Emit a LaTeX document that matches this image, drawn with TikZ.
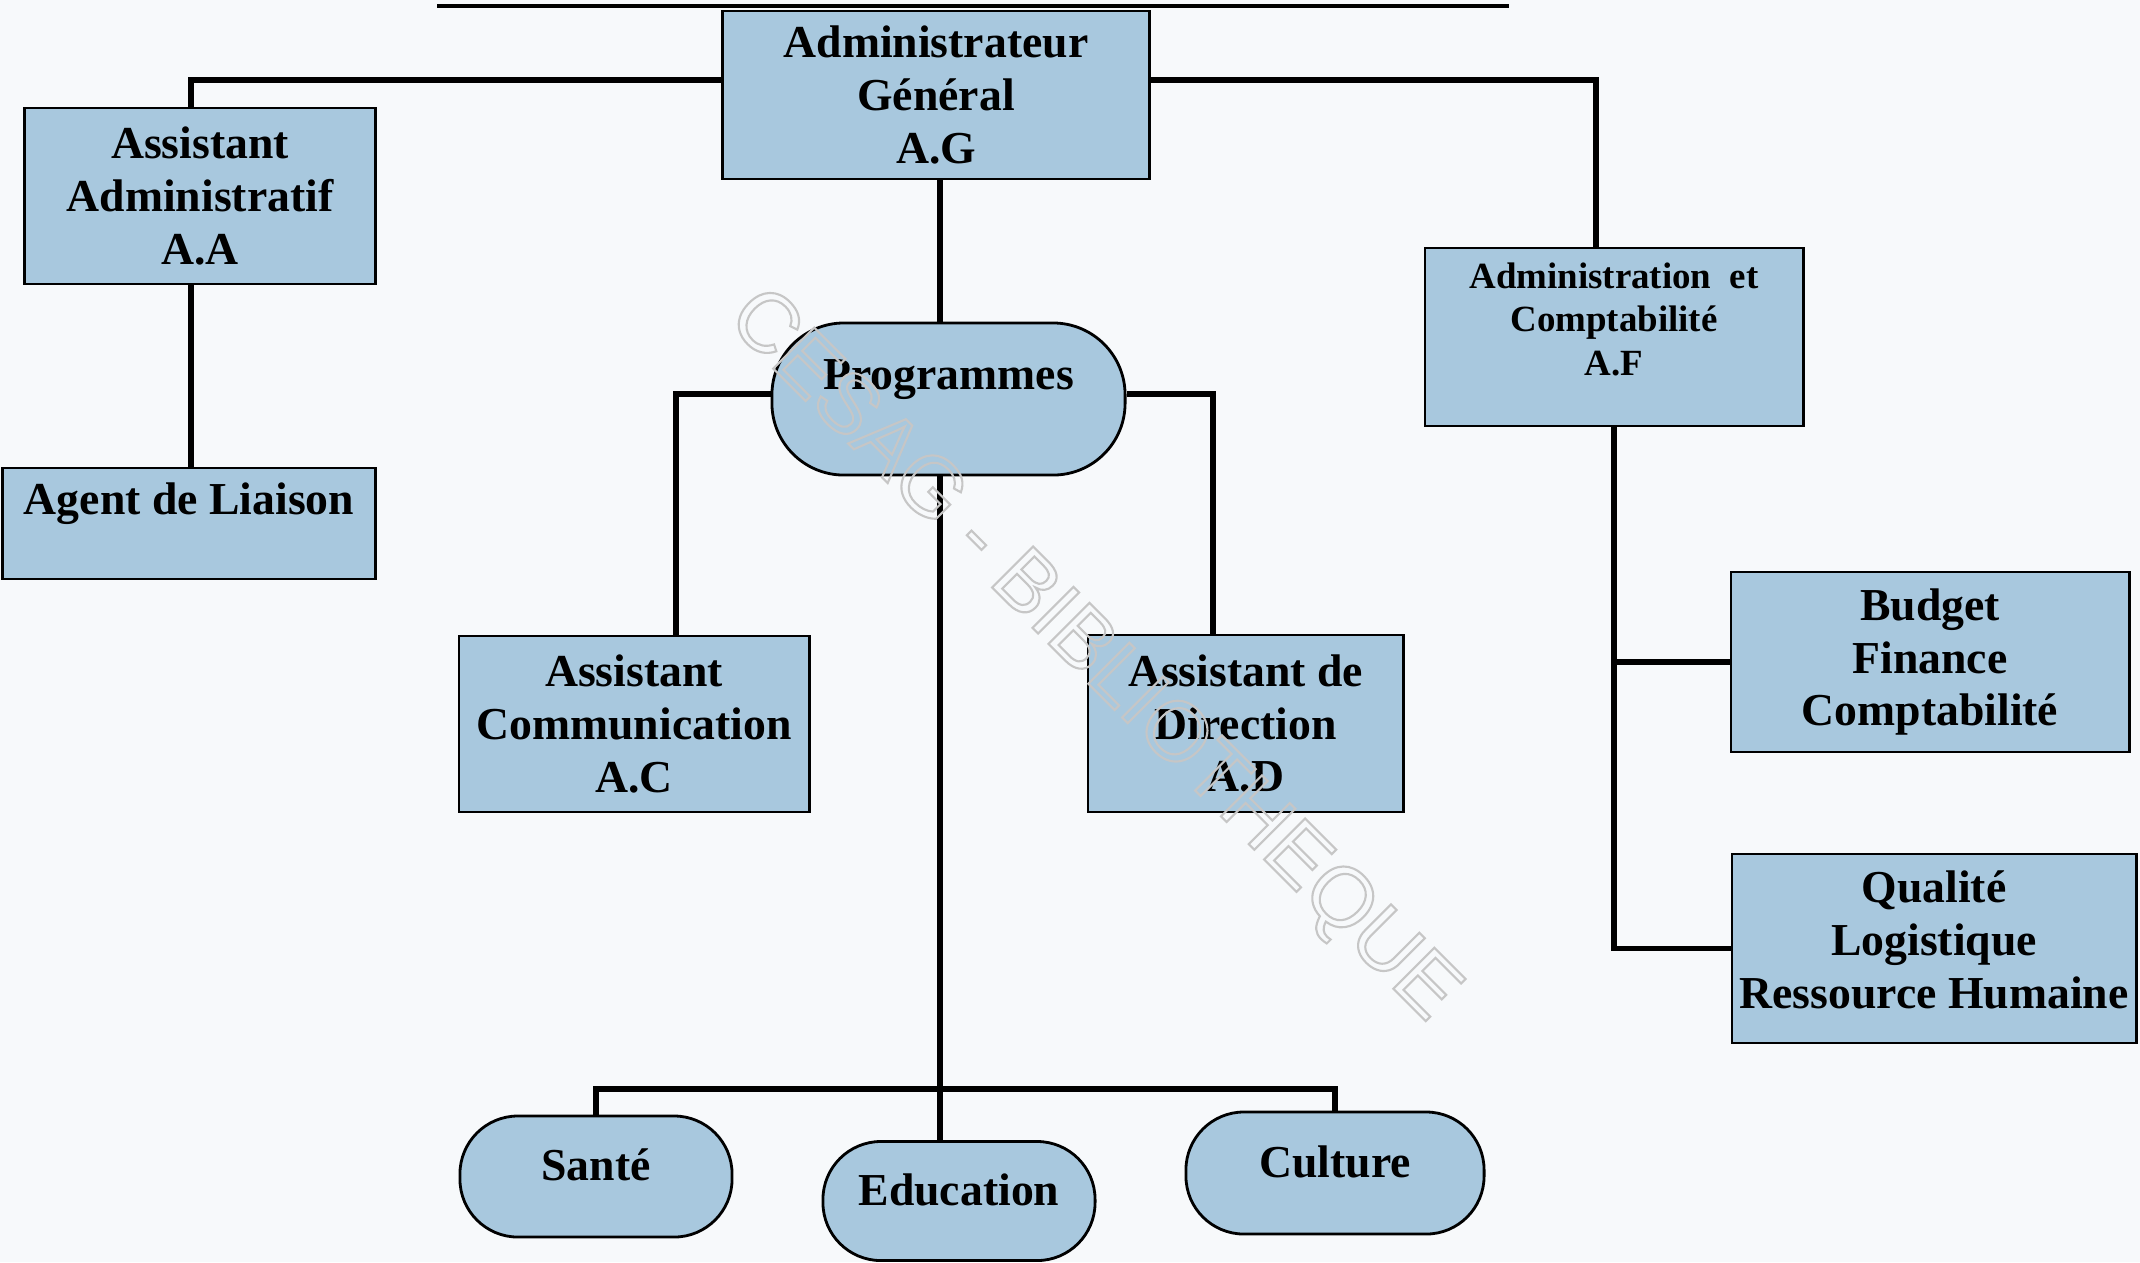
\documentclass[tikz,border=0pt]{standalone}
\usepackage{fontspec}
\setmainfont{Liberation Serif}
\newfontfamily\wmfont{Liberation Sans}
\definecolor{boxblue}{RGB}{168,200,222}
\definecolor{paper}{RGB}{247,249,251}
\tikzset{
	box/.style={draw=black, line width=0.8pt, fill=boxblue, align=center, inner sep=0pt},
	oval/.style={box, rounded corners=#1},
	dims/.style 2 args={minimum width=#1, minimum height=#2},
	txt/.style={align=center, inner sep=0pt},
	link/.style={line width=1.5pt},
	small/.style={font=\bfseries\fontsize{10.5}{12.4}\selectfont},
}
\begin{document}
\begin{tikzpicture}[x=0.01cm, y=-0.01cm, font=\bfseries\fontsize{13}{15}\selectfont]
	\fill[paper] (0,0) rectangle (2140,1262);
	\useasboundingbox (0,0) rectangle (2140,1262);
	% title underline (title itself is cut off)
	\draw[line width=1.4pt] (437,6) -- (1509,6);
	% boxes
	\node[box, dims={4.26cm}{1.68cm}] (ag) at (936,95) {Administrateur\\Général\\A.G};
	\node[box, dims={3.50cm}{1.76cm}] (aa) at (200,196) {Assistant\\Administratif\\A.A};
	\node[box, dims={3.72cm}{1.11cm}, label={[txt, yshift=5.5pt]center:Agent de Liaison}] (liaison) at (189,523.5) {};
	\node[oval=0.72cm, dims={3.53cm}{1.52cm}, label={[txt, yshift=5.5pt]center:Programmes}] (prog) at (948.5,399) {};
	\node[box, dims={3.50cm}{1.76cm}] (ac) at (634,724) {Assistant\\Communication\\A.C};
	\node[box, dims={3.15cm}{1.77cm}] (ad) at (1245.5,723.5) {Assistant de\\Direction\\A.D};
	\node[box, dims={3.78cm}{1.78cm}, label={[txt, small, yshift=5pt]center:Administration\ \ et\\Comptabilité\\A.F}] (af) at (1614,337) {};
	\node[box, dims={3.98cm}{1.80cm}] (budget) at (1930,662) {Budget\\Finance\\Comptabilité};
	\node[box, dims={4.04cm}{1.89cm}, label={[txt, yshift=2.5pt]center:Qualité\\Logistique\\Ressource Humaine}] (qual) at (1934,948.5) {};
	\node[oval=0.58cm, dims={2.72cm}{1.21cm}, label={[txt, yshift=3.2pt]center:Santé}] (sante) at (596,1176.5) {};
	\node[oval=0.58cm, dims={2.72cm}{1.19cm}, label={[txt, yshift=3.2pt]center:Education}] (educ) at (959,1201) {};
	\node[oval=0.58cm, dims={2.98cm}{1.22cm}, label={[txt, yshift=3.2pt]center:Culture}] (culture) at (1335,1173) {};
	% junctions
	\coordinate (jl) at (191,80);
	\coordinate (jr) at (1596,80);
	\coordinate (pl) at (676,394);
	\coordinate (pr) at (1213,394);
	\coordinate (bus) at (940,1089);
	% links
	\draw[link] (ag.west |- jl) -- (jl) -- (jl |- aa.north);
	\draw[link] (ag.east |- jr) -- (jr) -- (jr |- af.north);
	\draw[link] (jl |- aa.south) -- (jl |- liaison.north);
	\draw[link] (bus |- ag.south) -- (bus |- prog.north);
	\draw[link] (prog.west |- pl) -- (pl) -- (pl |- ac.north);
	\draw[link] (prog.east |- pr) -- (pr) -- (pr |- ad.north);
	\draw[link] (bus |- prog.south) -- (bus |- educ.north);
	\draw[link] (sante.north) -- (sante.north |- bus) -- (culture.north |- bus) -- (culture.north);
	\draw[link] (af.south) -- (af.south |- qual.west) -- (qual.west);
	\draw[link] (af.south |- budget.west) -- (budget.west);
	% watermark
	\node[gray!45, rotate=-45, font=\wmfont\fontsize{24}{24}\selectfont] (wmark) at (1092,657)
		{\special{pdf:literal direct 1 Tr 0.6 w}CESAG - BIBLIOTHEQUE\special{pdf:literal direct 0 Tr}};
\end{tikzpicture}
\end{document}
